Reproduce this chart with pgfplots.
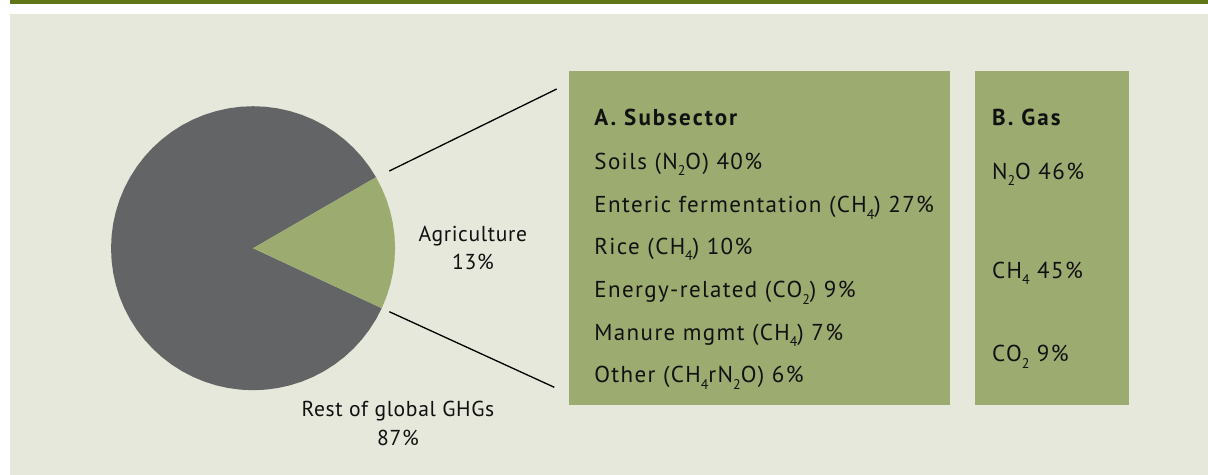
\documentclass[border=0pt]{standalone}
\usepackage{pgfplots}
\pgfplotsset{compat=1.18}
\usepgfplotslibrary{polar}
\usepackage{fontspec}
\setmainfont{PT Sans}
\newfontfamily\bodyfont[LetterSpace=6]{PT Sans}
\newfontfamily\headfont[LetterSpace=9]{PT Sans}
\newfontfamily\labfont[LetterSpace=3]{PT Sans}
\definecolor{barolive}{RGB}{94,116,21}
\definecolor{bgbeige}{RGB}{229,232,218}
\definecolor{boxgreen}{RGB}{156,171,112}
\definecolor{piegray}{RGB}{99,100,102}
\definecolor{txt}{RGB}{17,17,17}
\newcommand{\boxfont}{\bodyfont\fontsize{11.5}{14}\selectfont}
\newcommand{\piefont}{\labfont\fontsize{10.8}{13}\selectfont}
\newcommand{\sub}[1]{\raisebox{-3.2pt}{\fontsize{7}{7}\selectfont #1}}
\begin{document}
\begin{tikzpicture}[x=0.5pt,y=0.5pt]
\useasboundingbox (0,0) rectangle (1208,-475);
\fill[white] (0,0) rectangle (1208,-475);
\fill[barolive] (10,0) rectangle (1208,-4);
\fill[bgbeige] (10,-14) rectangle (1208,-475);
\fill[boxgreen] (569,-71) rectangle (950,-404.5);
\fill[boxgreen] (975,-71) rectangle (1129,-404.5);
\draw[line width=0.65pt] (389.3,-171) -- (556.7,-89);
\draw[line width=0.65pt] (389.3,-311.7) -- (554.3,-387.3);

% pie: angles in degrees, radius 1 (13% share drawn as in the source)
\begin{polaraxis}[at={(178.2,-174.8)}, anchor=center, hide axis, scale only axis,
  width=142pt, height=142pt, xmin=0, xmax=360, ymin=0, ymax=1, clip=false]
\addplot[fill=piegray, draw=none, mark=none] coordinates {(0,0)
 (30,1) (35,1) (40,1) (45,1) (50,1) (55,1) (60,1) (65,1) (70,1) (75,1)
 (80,1) (85,1) (90,1) (95,1) (100,1) (105,1) (110,1) (115,1) (120,1) (125,1)
 (130,1) (135,1) (140,1) (145,1) (150,1) (155,1) (160,1) (165,1) (170,1) (175,1)
 (180,1) (185,1) (190,1) (195,1) (200,1) (205,1) (210,1) (215,1) (220,1) (225,1)
 (230,1) (235,1) (240,1) (245,1) (250,1) (255,1) (260,1) (265,1) (270,1) (275,1)
 (280,1) (285,1) (290,1) (295,1) (300,1) (305,1) (310,1) (315,1) (320,1) (325,1)
 (330,1) (335,1)} -- cycle;
\addplot[fill=boxgreen, draw=none, mark=none] coordinates {(0,0)
 (-25,1) (-20,1) (-15,1) (-10,1) (-5,1) (0,1) (5,1) (10,1) (15,1) (20,1) (25,1) (30,1)} -- cycle;
\end{polaraxis}

\begin{scope}[every node/.style={inner sep=0pt, text=txt}]
\node[anchor=base, font=\piefont] at (472.8,-241.7) {Agriculture};
\node[anchor=base, font=\piefont] at (473,-270) {13\%};
\node[anchor=base, font=\piefont] at (398,-416.7) {Rest of global GHGs};
\node[anchor=base, font=\piefont] at (398,-445) {87\%};

\node[anchor=base west, font=\headfont\fontsize{11.5}{14}\selectfont\bfseries] at (594,-125.7) {A. Subsector};
\node[anchor=base west, font=\boxfont] at (594,-169.3) {Soils (N\sub{2}O) 40\%};
\node[anchor=base west, font=\boxfont] at (594,-212.7) {Enteric fermentation (CH\sub{4}) 27\%};
\node[anchor=base west, font=\boxfont] at (594,-254.3) {Rice (CH\sub{4}) 10\%};
\node[anchor=base west, font=\boxfont] at (594,-297.7) {Energy-related (CO\sub{2}) 9\%};
\node[anchor=base west, font=\boxfont] at (594,-340) {Manure mgmt (CH\sub{4}) 7\%};
\node[anchor=base west, font=\boxfont] at (594,-382.7) {Other (CH\sub{4}rN\sub{2}O) 6\%};

\node[anchor=base west, font=\headfont\fontsize{11.5}{14}\selectfont\bfseries] at (991.7,-125.7) {B. Gas};
\node[anchor=base west, font=\boxfont] at (991.7,-179.3) {N\sub{2}O 46\%};
\node[anchor=base west, font=\boxfont] at (991.7,-278.3) {CH\sub{4} 45\%};
\node[anchor=base west, font=\boxfont] at (991.7,-361.7) {CO\sub{2} 9\%};
\end{scope}
\end{tikzpicture}
\end{document}
